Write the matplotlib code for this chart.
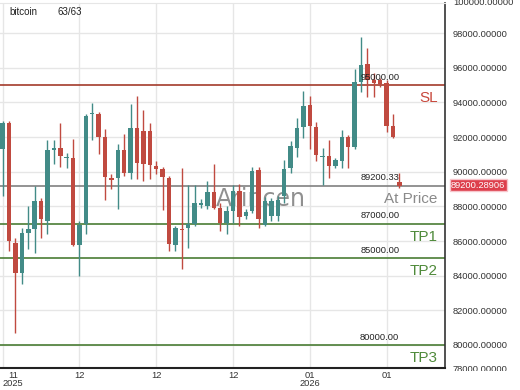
import matplotlib
matplotlib.use("Agg")
import matplotlib.pyplot as plt
from matplotlib.transforms import Bbox

# candles
opens = [91330, 92780, 85900, 84160, 86480, 86710, 88320, 87170, 91270, 91390,
         90810, 90810, 85780, 87000, 93300, 93350, 92020, 89650, 89650, 91270,
         89940, 92540, 92370, 92370, 90350, 90170, 89650, 85780, 86710, 86760,
         87000, 88090, 88040, 88840, 87920, 87050, 87750, 88900, 87460, 87750,
         90120, 86940, 87460, 87460, 88610, 90230, 91390, 92600, 93820, 92600,
         90870, 90930, 90350, 90640, 92020, 91450, 95150, 96240, 95260, 95260,
         95090, 92660, 89400]
highs = [92950, 92950, 86190, 86760, 88040, 89190, 88500, 91850, 91850, 92830,
         91100, 91910, 87170, 93350, 93990, 93470, 92490, 89890, 91620, 92200,
         93930, 94390, 93530, 92780, 90640, 90290, 89770, 86880, 90230, 89250,
         89250, 88440, 89480, 90460, 88210, 88040, 89250, 89310, 87860, 90290,
         90290, 88560, 88500, 88610, 90690, 91790, 93120, 94680, 94340, 92890,
         91390, 91850, 90810, 92430, 92140, 95950, 97750, 97110, 95720, 95380,
         95260, 93300, 89900]
lows = [88600, 85430, 80700, 83530, 85550, 85320, 86190, 86420, 90460, 90290,
        90230, 85720, 83990, 86420, 91850, 91040, 88380, 89020, 87860, 89770,
        89600, 89600, 89480, 89600, 89890, 87800, 85430, 85430, 84400, 85610,
        86880, 87920, 87860, 87860, 86590, 86420, 87050, 86880, 87280, 87630,
        86760, 86880, 87170, 87170, 88210, 89940, 90870, 91970, 91330, 90640,
        89250, 89650, 90230, 90230, 90230, 91330, 94570, 94280, 94280, 94860,
        92260, 91970, 89050]
closes = [92780, 86010, 84160, 86480, 86710, 88320, 87280, 91270, 91390, 90930,
          90870, 85780, 86940, 93240, 93350, 92020, 89710, 89540, 91270, 89940,
          92540, 90520, 90460, 90410, 90170, 89710, 85840, 86760, 86650, 87000,
          88210, 88210, 88840, 87920, 87050, 87750, 88900, 87400, 87690, 90060,
          87280, 88320, 88320, 88380, 90170, 91500, 92540, 93760, 92660, 90980,
          90930, 90350, 90690, 92020, 91450, 95150, 96130, 95260, 95090, 95030,
          92660, 92020, 89200]

tick_idx = [0, 12, 24, 36, 48, 60]
tick_labels = ["11\n2025", "12", "12", "12", "01\n2026", "01"]

level_prices = [95000, 89200.33, 87000, 85000, 80000]
level_values = ["95000.00", "89200.33", "87000.00", "85000.00", "80000.00"]
level_names = ["SL", "At Price", "TP1", "TP2", "TP3"]
level_colors = ["#a33b2b", "#808080", "#4a7d35", "#4a7d35", "#4a7d35"]
name_colors = ["#c8473b", "#8a8a8a", "#4f8a3a", "#4f8a3a", "#4f8a3a"]

last_price = "89200.28906"
symbol = "bitcoin"
count = "63/63"

UP = "#428b87"
DOWN = "#c04a40"

plt.rcParams["font.family"] = ["Liberation Sans", "DejaVu Sans"]

W, H = 520, 390
fig = plt.figure(figsize=(5.2, 3.9), dpi=100)
ax = fig.add_axes([0, 22 / H, 444.5 / W, 365 / H])

ax.set_xlim(-0.42, 69.06)
ax.set_ylim(78673, 99731)

# watermark behind candles
ax.text(40.4, 88450, "Arincen", fontsize=17, family="DejaVu Sans",
        color="#555555", alpha=0.65, ha="center", va="center", zorder=1)

for i in range(len(opens)):
    o, h, l, c = opens[i], highs[i], lows[i], closes[i]
    col = UP if c >= o else DOWN
    ax.vlines(i, l, h, color=col, lw=1, zorder=3)
    body = c - o
    if abs(body) < 60:
        body = 60 if body >= 0 else -60
    ax.bar(i, body, bottom=o, width=0.7, color=col, zorder=3, linewidth=0)

last_i = len(opens) - 1
for p, v, n, lc, nc in zip(level_prices, level_values, level_names,
                           level_colors, name_colors):
    ax.axhline(p, color=lc, lw=1.2, zorder=2)
    ax.text(last_i, p + 190, v, fontsize=6.7, color="#222222",
            ha="right", va="bottom", zorder=4)
    ax.text(68.0, p - 750, n, fontsize=11, color=nc,
            ha="right", va="center", zorder=4)

ax.set_yticks(range(80000, 99000, 2000))
ax.set_yticklabels([f"{v:.5f}" for v in range(80000, 99000, 2000)])
ax.yaxis.tick_right()
ax.tick_params(axis="y", length=0, pad=6, labelsize=6.7, labelcolor="#333333")

ax.set_xticks(tick_idx)
ax.set_xticklabels(tick_labels)
ax.tick_params(axis="x", length=0, pad=2, labelsize=6.7, labelcolor="#333333")
first = ax.get_xticklabels()[0]
first.set_horizontalalignment("left")
first.set_multialignment("center")
for lab in ax.get_xticklabels():
    lab.set_linespacing(0.95)

ax.grid(True, color="#e6e6e6", lw=1, zorder=0)
ax.set_axisbelow(True)
ax.spines["left"].set_visible(False)
ax.spines["top"].set_color("#e6e6e6")
ax.spines["right"].set_color("#333333")
ax.spines["right"].set_linewidth(1.2)
ax.spines["bottom"].set_color("#222222")
ax.spines["bottom"].set_linewidth(1.5)

# partial labels at top and bottom of the price scale, cut like the original
fig.text(453 / W, 1 - 2.5 / H, "100000.00000", fontsize=6.7, color="#333333",
         ha="left", va="center")
t = fig.text(453 / W, 1 - 370 / H, "78000.00000", fontsize=6.7,
             color="#333333", ha="left", va="center")
t.set_clip_box(Bbox.from_extents(0, H - 371, W, H))
t.set_clip_on(True)

# last price tag
fig.text(451 / W, 1 - 185 / H, last_price, fontsize=6.7, color="white",
         ha="left", va="center",
         bbox=dict(boxstyle="square,pad=0.15", facecolor="#dd3f4c",
                   edgecolor="#f7c6cc", lw=1))

fig.text(9 / W, 1 - 12 / H, symbol, fontsize=7, color="#222222",
         ha="left", va="center")
fig.text(58 / W, 1 - 12 / H, count, fontsize=7, color="#222222",
         ha="left", va="center")

fig.savefig("out.png", dpi=100)
